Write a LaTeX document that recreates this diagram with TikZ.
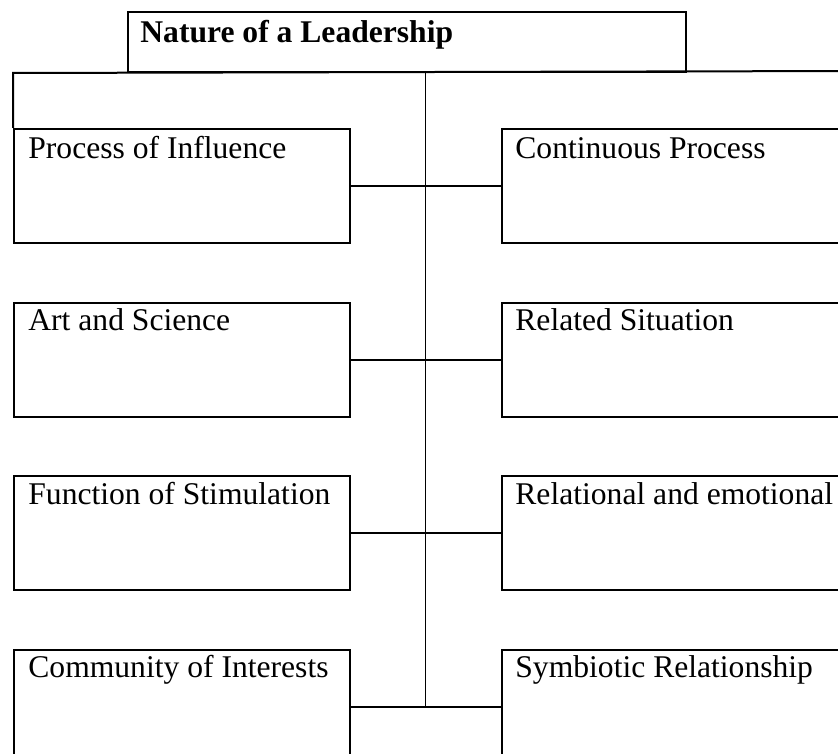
\documentclass[tikz,border=0pt]{standalone}
\usepackage{fontspec}
\setmainfont{Liberation Serif}
\usetikzlibrary{positioning}

\begin{document}
\begin{tikzpicture}[x=0.5pt,y=-0.5pt,
		box/.style={draw=black,line width=1pt,rectangle,inner sep=0pt,minimum width=168pt,minimum height=57pt},
		wide/.style={box,minimum width=180pt},
		lbl/.style={anchor=base west,inner sep=0pt,font=\fontsize{15.8}{19}\selectfont},
		link/.style={draw=black,line width=1pt},
		node distance=28.75pt and 75pt]
		\clip (0,0) rectangle (838,753);
		% title and frame
		\node [box,anchor=north west,minimum width=279pt,minimum height=30pt] (title) at (127,11) {};
		\node [lbl,font=\fontsize{15.8}{19}\selectfont\bfseries] (titletxt) at ([xshift=6.5pt,yshift=-16pt]title.north west) {Nature of a Leadership};
		\coordinate (spine) at (425,71);
		% left column
		\node [box,anchor=north west] (pi) at (13,128) {};
		\node [box,below=of pi] (as) {};
		\node [box,below=of as] (fs) {};
		\node [box,below=of fs] (ci) {};
		% right column
		\node [wide,right=of pi] (cp) {};
		\node [wide,right=of as] (rs) {};
		\node [wide,right=of fs] (re) {};
		\node [wide,right=of ci] (sr) {};
		\draw [link] (pi.north west) -- (title.south west -| pi.west) -- (860,71);
		% texts
		\node [lbl] (pitxt) at ([xshift=7.5pt,yshift=-15.5pt]pi.north west) {Process of Influence};
		\node [lbl] (astxt) at ([xshift=7.5pt,yshift=-14.5pt]as.north west) {Art and Science};
		\node [lbl] (fstxt) at ([xshift=7.5pt,yshift=-14.5pt]fs.north west) {Function of Stimulation};
		\node [lbl] (citxt) at ([xshift=7.5pt,yshift=-14.5pt]ci.north west) {Community of Interests};
		\node [lbl] (cptxt) at ([xshift=7pt,yshift=-15.5pt]cp.north west) {Continuous Process};
		\node [lbl] (rstxt) at ([xshift=7pt,yshift=-14.5pt]rs.north west) {Related Situation};
		\node [lbl] (retxt) at ([xshift=7pt,yshift=-14.5pt]re.north west) {Relational and emotional};
		\node [lbl] (srtxt) at ([xshift=7pt,yshift=-14.5pt]sr.north west) {Symbiotic Relationship};
		% connectors
		\draw [black,line width=0.5pt] (spine) -- (spine |- ci.east);
		\draw [link] (pi.east) -- (cp.west);
		\draw [link] (as.east) -- (rs.west);
		\draw [link] (fs.east) -- (re.west);
		\draw [link] (ci.east) -- (sr.west);
	\end{tikzpicture}
\end{document}
